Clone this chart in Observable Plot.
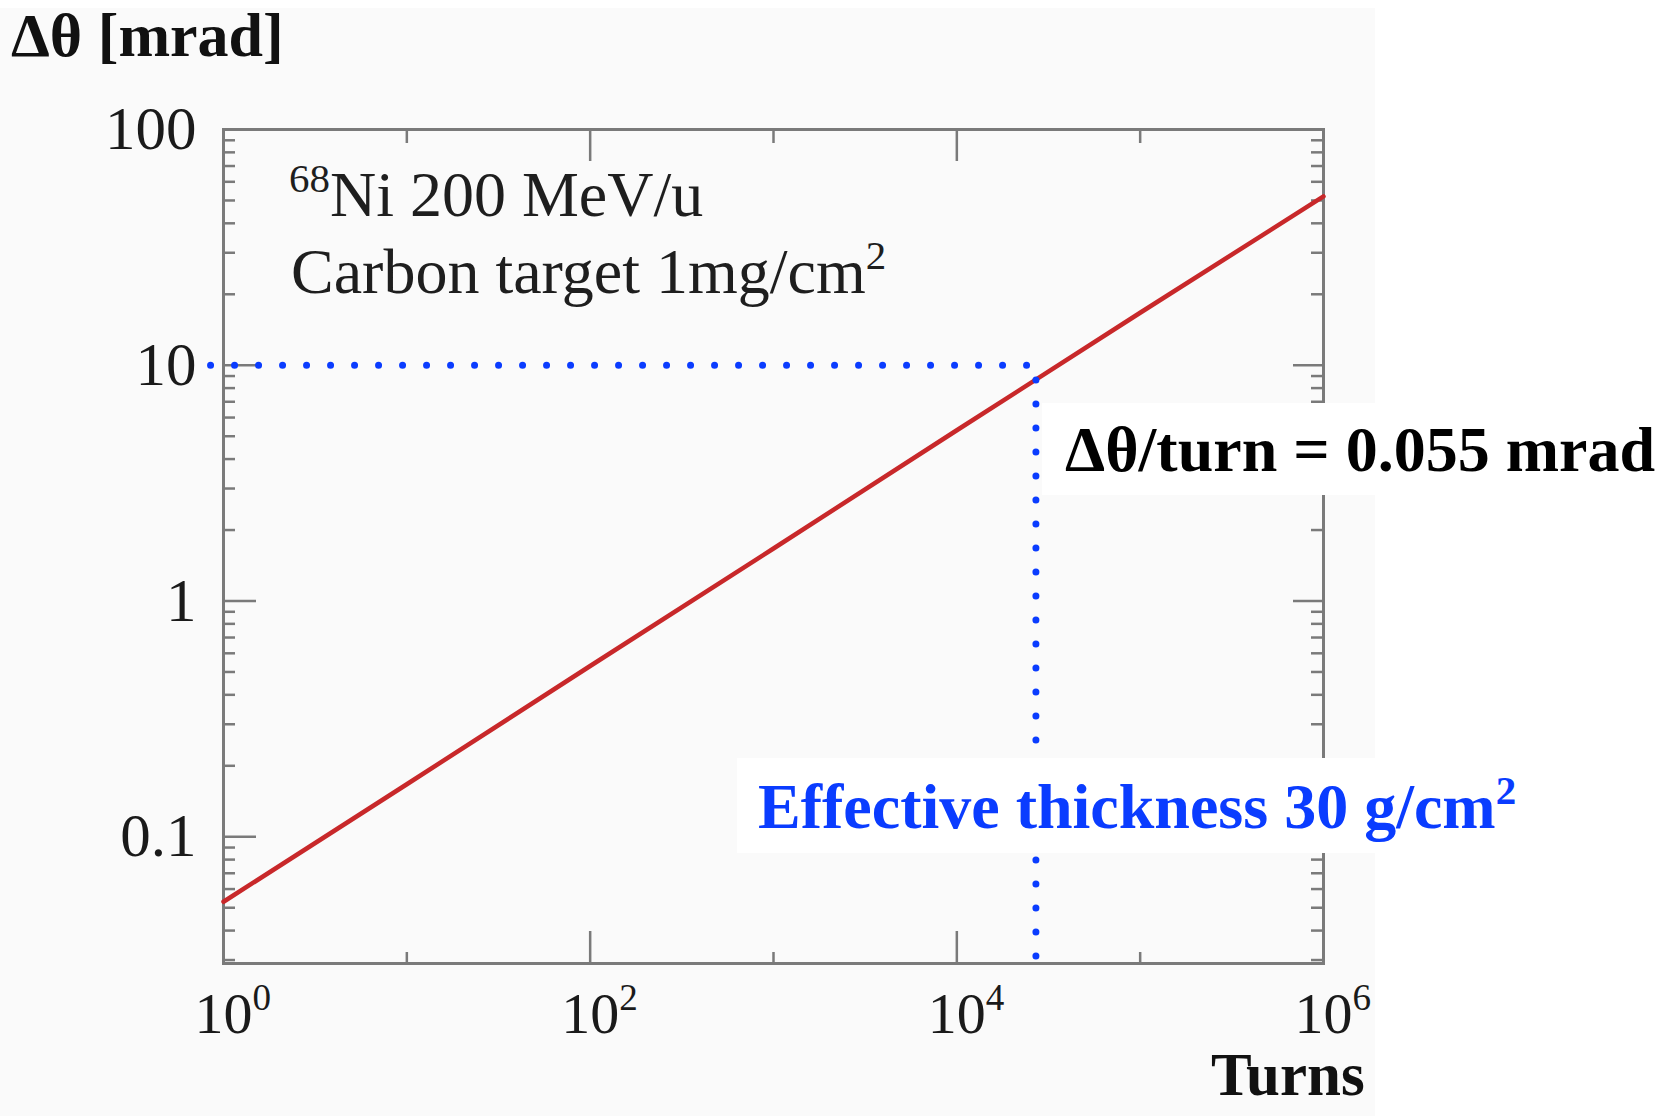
<!DOCTYPE html>
<html>
<head>
<meta charset="utf-8">
<script src="https://cdn.jsdelivr.net/npm/d3@7"></script>
<script src="https://cdn.jsdelivr.net/npm/@observablehq/plot@0.6"></script>
<style>
  html, body { margin: 0; padding: 0; background: #ffffff; }
  #stage { position: relative; width: 1660px; height: 1116px; overflow: hidden; font-family: 'Liberation Serif', 'Times New Roman', serif; }
  #panel { position: absolute; left: 0; top: 8px; width: 1375px; height: 1108px; background: #fafafa; }
  #chart { position: absolute; left: 0; top: 0; }
  .ov { position: absolute; line-height: 1; white-space: nowrap; }
  .sup { font-size: 0.64em; vertical-align: 0.58em; line-height: 0; }
  .box { position: absolute; background: #ffffff; }
</style>
</head>
<body>
<div id="stage">
  <div id="panel"></div>
  <div id="chart"></div>
</div>
<script>
// ---- data ----
const turns = [1, 10, 100, 1000, 10000, 100000, 1000000];
const deltaTheta = [0.053, 0.167, 0.53, 1.67, 5.3, 16.7, 52];

const xTicks = [1, 100, 10000, 1000000];
const xMinorTicks = [10, 1000, 100000];
const yTicks = [0.1, 1, 10, 100];
const yMinorTicks = [0.03, 0.04, 0.05, 0.06, 0.07, 0.08, 0.09,
                     0.2, 0.3, 0.4, 0.5, 0.6, 0.7, 0.8, 0.9,
                     2, 3, 4, 5, 6, 7, 8, 9,
                     20, 30, 40, 50, 60, 70, 80, 90];

const guideTurns = [0.85, 27000, 27000];
const guideTheta = [10, 10, 0.028];

const yLabel = "Δθ [mrad]";
const xLabel = "Turns";
const noteLine1 = ["68", "Ni 200 MeV/u"];
const noteLine2 = ["Carbon target 1mg/cm", "2"];
const perTurnText = "Δθ/turn = 0.055 mrad";
const thicknessText = ["Effective thickness 30 g/cm", "2"];

// ---- build ----
const curve = turns.map((t, i) => ({t, v: deltaTheta[i]}));
const guide = guideTurns.map((t, i) => ({t, v: guideTheta[i]}));
const supDigits = {"0":"⁰","1":"¹","2":"²","3":"³","4":"⁴","5":"⁵","6":"⁶"};
const plainDigits = Object.fromEntries(Object.entries(supDigits).map(([k, v]) => [v, k]));

const W = 1660, H = 1116;
const mL = 223, mR = 337, mT = 129, mB = 153;
const fw = W - mL - mR, fh = H - mT - mB;
const axisGray = "#7a7a7a";

const chart = Plot.plot({
  width: W,
  height: H,
  marginLeft: mL,
  marginRight: mR,
  marginTop: mT,
  marginBottom: mB,
  style: {
    background: "none",
    overflow: "visible",
    fontFamily: "'Liberation Serif', 'Times New Roman', serif",
    fontSize: "58px",
    color: "#1a1a1a"
  },
  x: {type: "log", domain: [1, 1e6]},
  y: {type: "log", domain: [0.029, 100]},
  marks: [
    Plot.axisY({ticks: yTicks, tickSize: 0, tickPadding: 27, fontSize: 61, tickFormat: d => String(d), label: null}),
    Plot.axisX({ticks: xTicks, tickSize: 0, tickPadding: 28, textAnchor: "start", dx: -29,
      tickFormat: d => "10" + supDigits[String(Math.round(Math.log10(d)))], label: null}),
    // inward ROOT-style ticks, left & right
    Plot.tickY(yTicks, {y: d => d, insetRight: fw - 33, stroke: axisGray, strokeWidth: 2.5}),
    Plot.tickY(yMinorTicks, {y: d => d, insetRight: fw - 12, stroke: axisGray, strokeWidth: 2.5}),
    Plot.tickY(yTicks, {y: d => d, insetLeft: fw - 30, stroke: axisGray, strokeWidth: 2.5}),
    Plot.tickY(yMinorTicks, {y: d => d, insetLeft: fw - 12, stroke: axisGray, strokeWidth: 2.5}),
    // inward ticks, bottom & top
    Plot.tickX(xTicks, {x: d => d, insetTop: fh - 32, stroke: axisGray, strokeWidth: 2.5}),
    Plot.tickX(xMinorTicks, {x: d => d, insetTop: fh - 11, stroke: axisGray, strokeWidth: 2.5}),
    Plot.tickX(xTicks, {x: d => d, insetBottom: fh - 32, stroke: axisGray, strokeWidth: 2.5}),
    Plot.tickX(xMinorTicks, {x: d => d, insetBottom: fh - 14, stroke: axisGray, strokeWidth: 2.5}),
    Plot.frame({stroke: axisGray, strokeWidth: 3}),
    Plot.line(curve, {x: "t", y: "v", stroke: "#c8282a", strokeWidth: 4.5}),
    Plot.line(guide, {x: "t", y: "v", stroke: "#0a3cff", strokeWidth: 7,
      strokeDasharray: "0 24", strokeLinecap: "round"})
  ]
});
document.getElementById("chart").appendChild(chart);

// render the exponent of x tick labels as a raised, smaller tspan
chart.querySelectorAll('g[aria-label="x-axis tick label"] text').forEach(t => {
  const s = t.textContent;
  const base = s.slice(0, 2), expo = s.slice(2).split("").map(c => plainDigits[c] ?? c).join("");
  t.textContent = "";
  const a = document.createElementNS("http://www.w3.org/2000/svg", "tspan");
  a.textContent = base;
  const b = document.createElementNS("http://www.w3.org/2000/svg", "tspan");
  b.textContent = expo;
  b.setAttribute("font-size", "0.64em");
  b.setAttribute("dy", "-0.62em");
  t.appendChild(a); t.appendChild(b);
});

// ---- overlay texts ----
const stage = document.getElementById("stage");
function addDiv(cls, css, html) {
  const d = document.createElement("div");
  d.className = cls;
  d.style.cssText = css;
  if (html != null) d.innerHTML = html;
  stage.appendChild(d);
  return d;
}
// baseline = top + 0.8375 * fontSize (line-height 1)
addDiv("ov", "left:11px; top:4px; font-size:62px; font-weight:bold; color:#111;", yLabel);
addDiv("ov", "left:1211px; top:1044px; font-size:61px; font-weight:bold; color:#111;", xLabel);

addDiv("ov", "left:289px; top:163px; font-size:64px; color:#1e1e1e;",
  `<span class="sup">${noteLine1[0]}</span>${noteLine1[1]}`);
addDiv("ov", "left:291px; top:240px; font-size:64px; color:#1e1e1e;",
  `${noteLine2[0]}<span class="sup">${noteLine2[1]}</span>`);

addDiv("box", "left:1042px; top:403px; width:618px; height:92px;");
addDiv("ov", "left:1065px; top:418px; font-size:64px; font-weight:bold; color:#000;", perTurnText);

addDiv("box", "left:737px; top:758px; width:640px; height:95px;");
addDiv("ov", "left:758px; top:775px; font-size:64px; font-weight:bold; color:#0a3cff;",
  `${thicknessText[0]}<span class="sup">${thicknessText[1]}</span>`);
</script>
</body>
</html>
